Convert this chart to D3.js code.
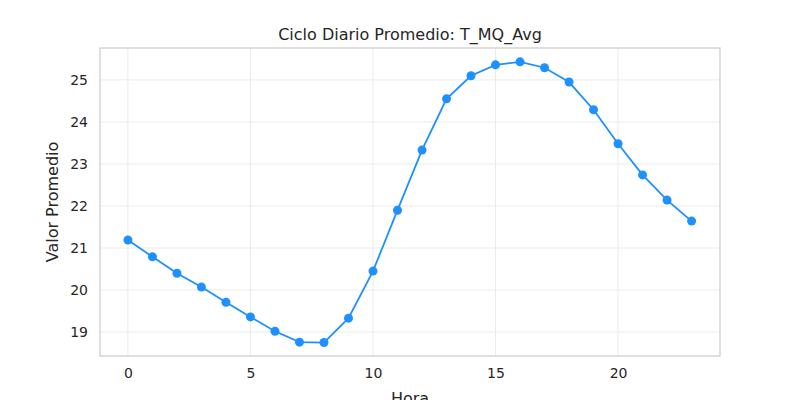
<!DOCTYPE html>
<html>
<head>
<meta charset="utf-8">
<script src="https://cdn.jsdelivr.net/npm/d3@7"></script>
<style>
  body { margin: 0; background: #fff; }
  text { font-family: "DejaVu Sans", sans-serif; fill: #262626; }
</style>
</head>
<body>
<script>
// hourly means
var horas = [0,1,2,3,4,5,6,7,8,9,10,11,12,13,14,15,16,17,18,19,20,21,22,23]
var valores = [21.19,20.79,20.40,20.07,19.71,19.36,19.02,18.76,18.75,19.33,20.45,21.90,
               23.33,24.55,25.10,25.36,25.43,25.29,24.95,24.29,23.48,22.74,22.14,21.64]
var xTicks = [0,5,10,15,20]
var yTicks = [19,20,21,22,23,24,25]

var W = 800, H = 400
var m = {left: 100, right: 80, top: 48, bottom: 44}

var svg = d3.select(document.body).append('svg').attr('width', W).attr('height', H)

var x = d3.scaleLinear().domain([-1.14, 24.16]).range([m.left, W - m.right])
var y = d3.scaleLinear().domain([18.43, 25.76]).range([H - m.bottom, m.top])

// grid
svg.append('g').selectAll('line').data(xTicks).enter().append('line')
  .attr('x1', function(d){ return x(d) }).attr('x2', function(d){ return x(d) })
  .attr('y1', m.top).attr('y2', H - m.bottom)
  .attr('stroke', '#ebebeb').attr('stroke-width', 1)
svg.append('g').selectAll('line').data(yTicks).enter().append('line')
  .attr('y1', function(d){ return y(d) }).attr('y2', function(d){ return y(d) })
  .attr('x1', m.left).attr('x2', W - m.right)
  .attr('stroke', '#ebebeb').attr('stroke-width', 1)

// axes (labels only, no tick marks)
var gx = svg.append('g').attr('transform', 'translate(0,' + (H - m.bottom) + ')')
  .call(d3.axisBottom(x).tickValues(xTicks).tickSize(0).tickPadding(12))
var gy = svg.append('g').attr('transform', 'translate(' + m.left + ',0)')
  .call(d3.axisLeft(y).tickValues(yTicks).tickSize(0).tickPadding(12))
gx.select('.domain').remove()
gy.select('.domain').remove()
svg.selectAll('.tick text').attr('font-size', 14).attr('fill', '#262626')
  .attr('font-family', '"DejaVu Sans", sans-serif')

// frame
svg.append('rect').attr('x', m.left).attr('y', m.top)
  .attr('width', W - m.left - m.right).attr('height', H - m.top - m.bottom)
  .attr('fill', 'none').attr('stroke', '#cccccc').attr('stroke-width', 1.25)

var line = d3.line().x(function(d, i){ return x(horas[i]) }).y(function(d){ return y(d) })
svg.append('path').datum(valores).attr('d', line)
  .attr('fill', 'none').attr('stroke', '#1e90ff').attr('stroke-width', 1.8)
svg.selectAll('circle').data(valores).enter().append('circle')
  .attr('cx', function(d, i){ return x(horas[i]) })
  .attr('cy', function(d){ return y(d) })
  .attr('r', 4.5).attr('fill', '#1e90ff')

svg.append('text').attr('x', (m.left + W - m.right) / 2).attr('y', 40)
  .attr('text-anchor', 'middle').attr('font-size', 16).text('Ciclo Diario Promedio: T_MQ_Avg')
svg.append('text').attr('x', (m.left + W - m.right) / 2).attr('y', 404)
  .attr('text-anchor', 'middle').attr('font-size', 16).text('Hora')
svg.append('text').attr('transform', 'translate(58,' + ((m.top + H - m.bottom) / 2) + ') rotate(-90)')
  .attr('text-anchor', 'middle').attr('font-size', 16).text('Valor Promedio')
</script>
</body>
</html>
